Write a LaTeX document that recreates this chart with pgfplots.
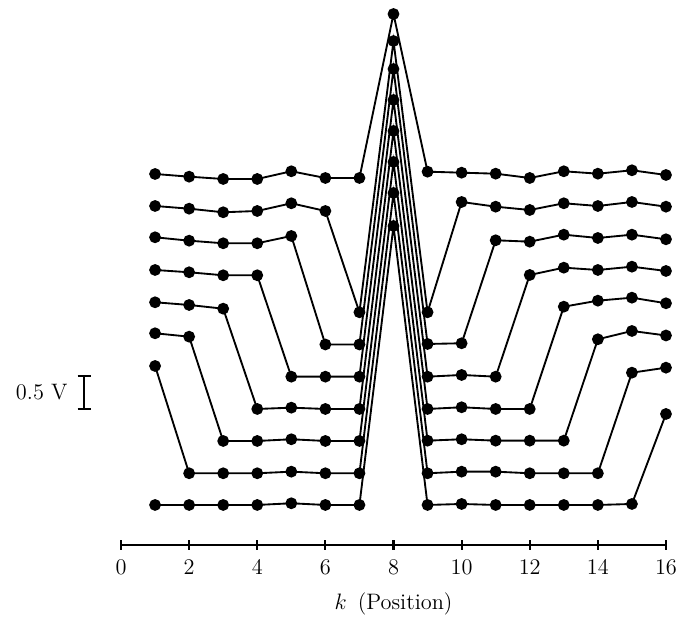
\documentclass[12pt,border=0pt]{standalone}
\usepackage{pgfplots}
\usepackage{pgfplotstable}
\pgfplotsset{compat=1.18}
\pgfplotsset{trace/.style={black, solid, line width=1pt, mark=*, mark size=2.65pt, mark options={solid, fill=black, draw=black}}}
\pgfplotstableread{
x t0 t1 t2 t3 t4 t5 t6 t7
1 371 339 307.7 275 242.7 211.7 179 40
2 368.3 336.3 304.3 272.7 240 208.3 71.7 40
3 366 332.7 301.7 269.7 236.3 104 71.7 40
4 366 334 301.7 269.7 136 104 71.7 40
5 373.7 341.7 309 168.3 137.3 105.7 73.3 41.7
6 367 334 200.5 168.3 136 104 71.7 40
7 367 232.7 200.5 168.3 136 104 71.7 40
8 531 504 476 445 414 383 352 319
9 373.3 232.7 201 168.3 136 104.3 71.7 40
10 372.3 343 201.7 170 137.7 105.7 73.3 41
11 371.3 338.3 304.7 168.3 136 104.3 73.3 40
12 367 335 303.3 270 136 104.3 71.7 40
13 373.7 341.7 310.3 277.3 238.3 104.3 71.7 40
14 371.3 339 307 275 244.3 205.7 71.7 40
15 374.7 343 310.3 278.3 247.3 214 172.3 41
16 370 338.3 305.7 274 241.7 209.5 177.3 131
}\data
\begin{document}
\begin{tikzpicture}
\begin{axis}[
  scale only axis, width=292.7pt, height=292.7pt,
  xmin=0, xmax=16, ymin=0, ymax=545,
  axis x line*=bottom, axis y line=none,
  xtick={0,2,...,16}, tick align=center, major tick length=5.4pt,
  every tick/.style={black, line width=1.2pt},
  axis line style={black, line width=1.2pt},
  xticklabel style={inner xsep=0pt, yshift=-1pt},
  xlabel={$k$\enspace(Position)},
  xlabel style={yshift=-2pt},
  clip=false,
]
\addplot[trace] table[x=x, y=t0] {\data};
\addplot[trace] table[x=x, y=t1] {\data};
\addplot[trace] table[x=x, y=t2] {\data};
\addplot[trace] table[x=x, y=t3] {\data};
\addplot[trace] table[x=x, y=t4] {\data};
\addplot[trace] table[x=x, y=t5] {\data};
\addplot[trace] table[x=x, y=t6] {\data};
\addplot[trace] table[x=x, y=t7] {\data};
\draw[line width=1.2pt] (axis cs:-1.086,136) -- (axis cs:-1.086,169);
\draw[line width=1.2pt] (axis cs:-1.277,169) -- (axis cs:-0.895,169);
\draw[line width=1.2pt] (axis cs:-1.277,136) -- (axis cs:-0.895,136);
\node[anchor=east, inner sep=0pt] at (axis cs:-1.556,153) {0.5 V};
\path (axis cs:-3.553,-68) rectangle (axis cs:16.353,545);
\end{axis}
\end{tikzpicture}
\end{document}
